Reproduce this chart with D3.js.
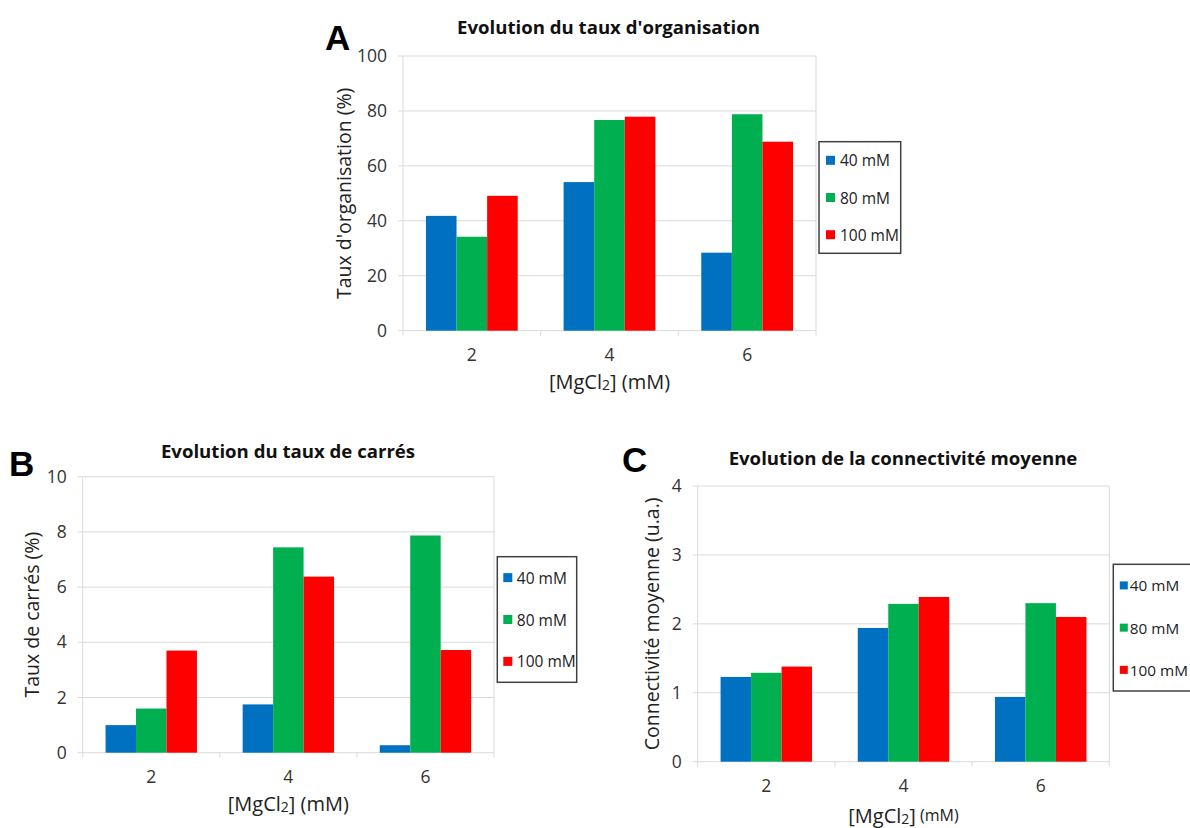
<!DOCTYPE html>
<html>
<head>
<meta charset="utf-8">
<script src="https://cdn.jsdelivr.net/npm/d3@7"></script>
<style>
  html, body { margin: 0; padding: 0; background: #fff; }
  svg { display: block; }
</style>
</head>
<body>
<svg id="chart" width="1190" height="828"></svg>
<script>
// ---------- DATA ----------
const categories = ["2", "4", "6"];
const seriesNames = ["40 mM", "80 mM", "100 mM"];
const seriesColors = ["#0070C0", "#00B050", "#FF0000"];

// Panel A: taux d'organisation (%)
const orgA40 = [41.8, 54.1, 28.4];
const orgA80 = [34.2, 76.7, 78.8];
const orgA100 = [49.1, 77.9, 68.8];
const ticksA = [0, 20, 40, 60, 80, 100];

// Panel B: taux de carrés (%)
const carres40 = [1.0, 1.75, 0.27];
const carres80 = [1.6, 7.44, 7.87];
const carres100 = [3.7, 6.38, 3.72];
const ticksB = [0, 2, 4, 6, 8, 10];

// Panel C: connectivité moyenne (u.a.)
const connect40 = [1.23, 1.94, 0.94];
const connect80 = [1.29, 2.29, 2.30];
const connect100 = [1.38, 2.39, 2.10];
const ticksC = [0, 1, 2, 3, 4];

// ---------- LAYOUT ----------
const panels = [
  {
    letter: "A", letterPos: [325, 50],
    title: "Evolution du taux d'organisation", titlePos: [608.5, 26],
    yTitle: "Taux d'organisation (%)", yTitleX: 343,
    xTitleY: 381, xTitleSmallUnit: false,
    plot: { x0: 403, x1: 816, y0: 56, y1: 330.7 },
    legend: { x: 819, y: 141.7, w: 81.7, h: 111.6, sq: 9, sqOff: 7, txtOff: 21, fs: 15.5 },
    series: [orgA40, orgA80, orgA100], ticks: ticksA
  },
  {
    letter: "B", letterPos: [9, 476],
    title: "Evolution du taux de carrés", titlePos: [288, 450],
    yTitle: "Taux de carrés (%)", yTitleX: 31,
    xTitleY: 803, xTitleSmallUnit: false,
    plot: { x0: 82.7, x1: 494, y0: 476.7, y1: 752.7 },
    legend: { x: 497.3, y: 556.7, w: 79.4, h: 125.6, sq: 9, sqOff: 6, txtOff: 19.5, fs: 15.5 },
    series: [carres40, carres80, carres100], ticks: ticksB
  },
  {
    letter: "C", letterPos: [622, 472],
    title: "Evolution de la connectivité moyenne", titlePos: [903, 457],
    yTitle: "Connectivité moyenne (u.a.)", yTitleX: 651,
    xTitleY: 815, xTitleSmallUnit: true,
    plot: { x0: 697.7, x1: 1109.3, y0: 486, y1: 761.7 },
    legend: { x: 1113.3, y: 564.3, w: 90, h: 126.7, sq: 8, sqOff: 6.5, txtOff: 16.5, fs: 15.3 },
    series: [connect40, connect80, connect100], ticks: ticksC
  }
];

const FONT = "'Open Sans', 'Noto Sans', sans-serif";
const svg = d3.select("#chart");

panels.forEach(p => {
  const g = svg.append("g");
  const { x0, x1, y0, y1 } = p.plot;

  const x = d3.scaleBand().domain(categories).range([x0, x1]).paddingInner(0).paddingOuter(0);
  const xs = d3.scaleBand().domain(seriesNames).range([0, x.bandwidth()]).paddingInner(0).paddingOuter(0.75);
  const y = d3.scaleLinear().domain([d3.min(p.ticks), d3.max(p.ticks)]).range([y1, y0]);

  // gridlines (extend left as tick marks)
  g.append("g").selectAll("line").data(p.ticks).join("line")
    .attr("x1", x0 - 5).attr("x2", x1)
    .attr("y1", d => y(d)).attr("y2", d => y(d))
    .attr("stroke", "#d9d9d9").attr("stroke-width", 1);

  // plot area side borders
  [x0, x1].forEach(xx => {
    g.append("line").attr("x1", xx).attr("x2", xx).attr("y1", y0).attr("y2", y1)
      .attr("stroke", "#d9d9d9").attr("stroke-width", 1);
  });

  // category boundary ticks
  const bounds = categories.map(c => x(c)).concat([x1]);
  g.append("g").selectAll("line").data(bounds).join("line")
    .attr("x1", d => d).attr("x2", d => d)
    .attr("y1", y1).attr("y2", y1 + 5)
    .attr("stroke", "#d9d9d9").attr("stroke-width", 1);

  // bars
  p.series.forEach((vals, si) => {
    g.append("g").selectAll("rect").data(vals).join("rect")
      .attr("x", (d, i) => x(categories[i]) + xs(seriesNames[si]))
      .attr("width", xs.bandwidth())
      .attr("y", d => y(d))
      .attr("height", d => y(0) - y(d))
      .attr("fill", seriesColors[si]);
  });

  // y axis labels
  const yAxis = d3.axisLeft(y).tickValues(p.ticks).tickSize(5).tickPadding(11).tickFormat(d3.format("d"));
  const ya = g.append("g").attr("transform", `translate(${x0},0)`).call(yAxis);
  ya.select(".domain").remove();
  ya.selectAll("line").remove();
  ya.selectAll("text").attr("font-family", FONT).attr("font-size", 17.5).attr("fill", "#333");

  // x axis labels
  const xAxis = d3.axisBottom(x).tickSize(0).tickPadding(18);
  const xa = g.append("g").attr("transform", `translate(0,${y1})`).call(xAxis);
  xa.select(".domain").remove();
  xa.selectAll("text").attr("font-family", FONT).attr("font-size", 17.5).attr("fill", "#333");

  // panel letter
  g.append("text").attr("x", p.letterPos[0]).attr("y", p.letterPos[1])
    .attr("font-family", "'Liberation Sans', Arial, sans-serif").attr("font-weight", "bold")
    .attr("font-size", 35).attr("fill", "#000").text(p.letter);

  // title
  g.append("text").attr("x", p.titlePos[0]).attr("y", p.titlePos[1])
    .attr("text-anchor", "middle").attr("dominant-baseline", "central")
    .attr("font-family", FONT).attr("font-weight", "bold").attr("font-size", 18.6)
    .attr("fill", "#111").text(p.title);

  // y title
  const yc = (y0 + y1) / 2;
  g.append("text").attr("transform", `translate(${p.yTitleX},${yc}) rotate(-90)`)
    .attr("text-anchor", "middle").attr("dominant-baseline", "central")
    .attr("font-family", FONT).attr("font-size", 19.5).attr("fill", "#222").text(p.yTitle);

  // x title
  const xt = g.append("text").attr("x", (x0 + x1) / 2).attr("y", p.xTitleY)
    .attr("text-anchor", "middle").attr("dominant-baseline", "central")
    .attr("font-family", FONT).attr("font-size", 20).attr("fill", "#222");
  xt.append("tspan").text("[MgCl");
  xt.append("tspan").attr("font-size", 14).attr("baseline-shift", "-25%").text("2");
  xt.append("tspan").text("]");
  if (p.xTitleSmallUnit) {
    xt.append("tspan").attr("font-size", 16).text(" (mM)");
  } else {
    xt.append("tspan").text(" (mM)");
  }

  // legend
  const L = p.legend;
  g.append("rect").attr("x", L.x).attr("y", L.y).attr("width", L.w).attr("height", L.h)
    .attr("fill", "#fff").attr("stroke", "#404040").attr("stroke-width", 1.5);
  seriesNames.forEach((s, i) => {
    const cy = L.y + L.h / 6 + i * L.h / 3;
    g.append("rect").attr("x", L.x + L.sqOff).attr("y", cy - L.sq / 2).attr("width", L.sq).attr("height", L.sq)
      .attr("fill", seriesColors[i]);
    g.append("text").attr("x", L.x + L.txtOff).attr("y", cy).attr("dominant-baseline", "central")
      .attr("font-family", FONT).attr("font-size", L.fs).attr("fill", "#222").text(s);
  });
});
</script>
</body>
</html>
